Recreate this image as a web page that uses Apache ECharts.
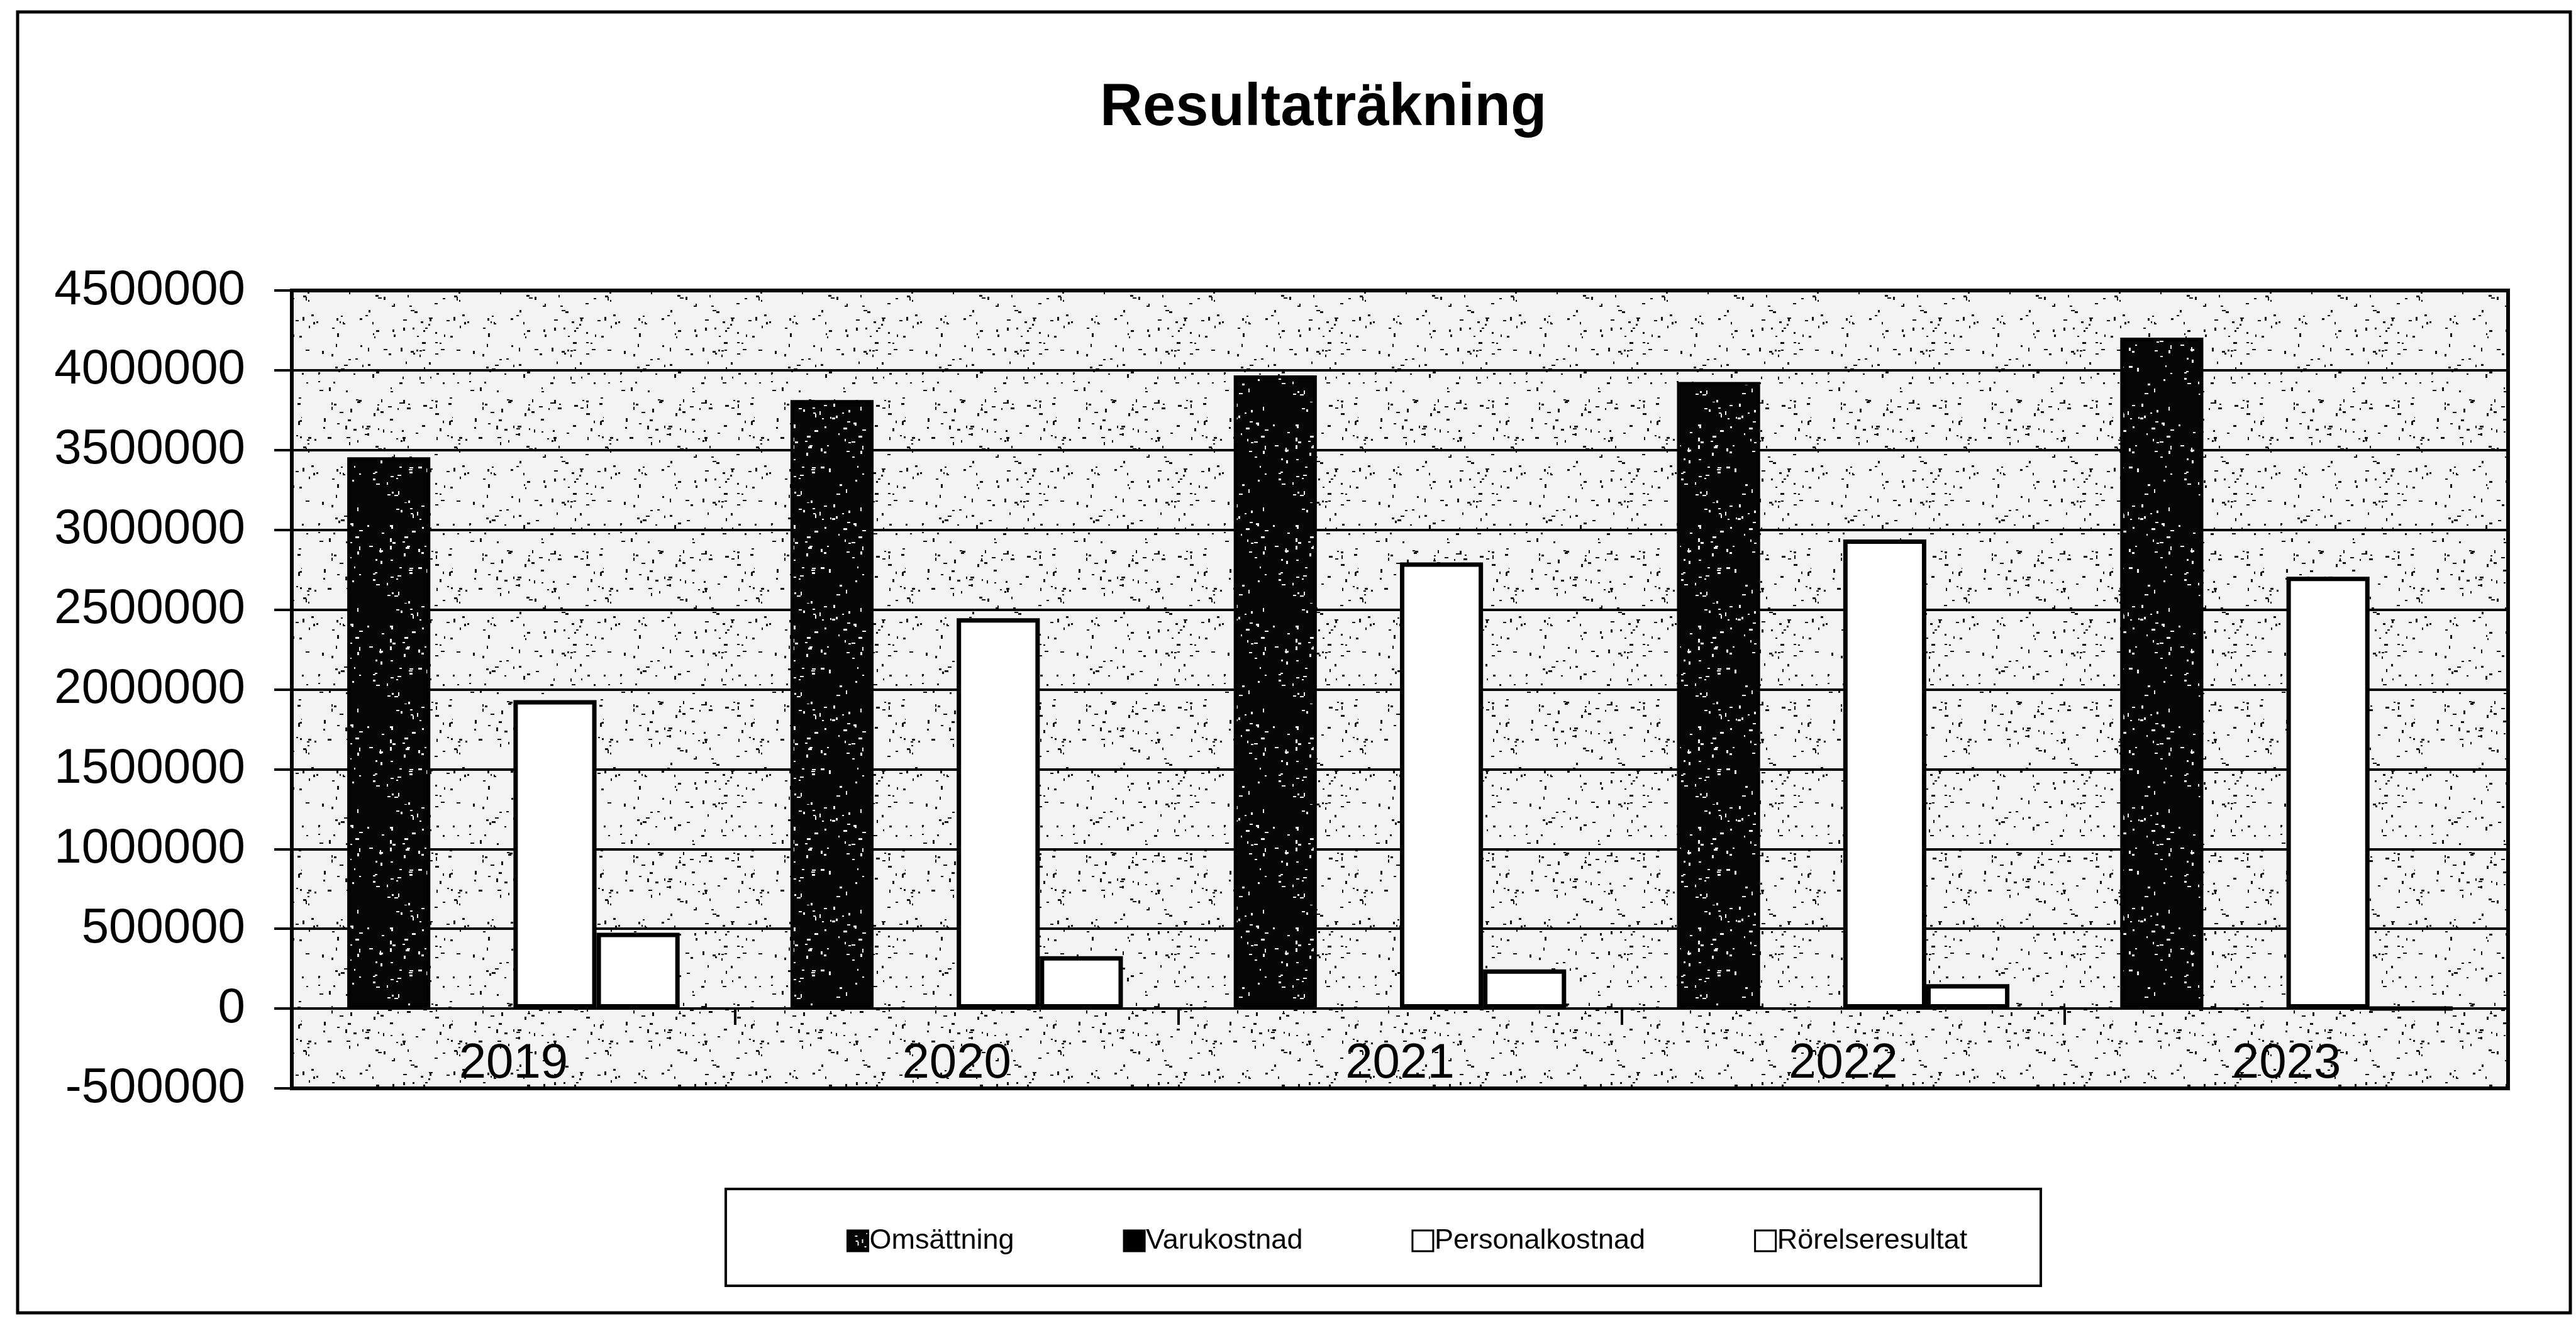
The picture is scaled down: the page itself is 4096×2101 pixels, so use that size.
<!DOCTYPE html>
<html>
<head>
<meta charset="utf-8">
<script src="https://cdn.jsdelivr.net/npm/echarts@6/dist/echarts.min.js"></script>
<style>
html,body{margin:0;padding:0;background:#fff;}
#chart{width:4096px;height:2101px;}
</style>
</head>
<body>
<div id="chart"></div>
<script>
// ---- data ----
const years = ['2019', '2020', '2021', '2022', '2023'];
const omsattning = [3455000, 3813000, 3968000, 3927000, 4204000];
const varukostnad = [null, null, null, null, null];
const personalkostnad = [1933000, 2446000, 2796000, 2940000, 2706000];
const rorelseresultat = [475000, 328000, 246000, 153000, 0];
const seriesNames = ['Omsättning', 'Varukostnad', 'Personalkostnad', 'Rörelseresultat'];
const yMin = -500000, yMax = 4500000, yStep = 500000;

// ---- speckle textures (deterministic) ----
function makeTile(size, bg, fg, count, seed) {
  const c = document.createElement('canvas');
  c.width = size; c.height = size;
  const g = c.getContext('2d');
  g.fillStyle = bg; g.fillRect(0, 0, size, size);
  let s = seed;
  const rnd = () => { s = (s * 1103515245 + 12345) % 2147483648; return s / 2147483648; };
  g.fillStyle = fg;
  for (let i = 0; i < count; i++) {
    const x = Math.floor(rnd() * size), y = Math.floor(rnd() * size);
    const horiz = rnd() < 0.6;
    const len = 3 + Math.floor(rnd() * 4);
    const th = 2 + Math.floor(rnd() * 2);
    if (horiz) g.fillRect(x, y, len, th); else g.fillRect(x, y, th, len);
  }
  return c;
}
const bgTile = makeTile(240, '#f3f3f3', '#111111', 170, 12345);
const barTile = makeTile(160, '#050505', '#f2f2f2', 80, 777);

const font = "'Liberation Sans', Arial, sans-serif";
const chart = echarts.init(document.getElementById('chart'), null, {renderer: 'canvas'});

const option = {
  backgroundColor: '#ffffff',
  animation: false,
  title: {
    text: 'Resultaträkning',
    left: 1744, top: 121,
    textStyle: {fontFamily: font, fontWeight: 'bold', fontSize: 94, color: '#000'}
  },
  legend: {
    data: seriesNames,
    left: 1341, top: 1946,
    itemWidth: 33, itemHeight: 33, itemGap: 173,
    icon: 'rect',
    textStyle: {fontFamily: font, fontSize: 45, color: '#000', padding: [0, 0, 0, -3]},
    itemStyle: {borderColor: '#000', borderWidth: 3}
  },
  grid: {
    left: 464, right: 108, top: 462, bottom: 370,
    show: true,
    backgroundColor: {image: bgTile, repeat: 'repeat'},
    borderColor: '#000', borderWidth: 6
  },
  xAxis: {
    type: 'category',
    data: years,
    axisLine: {onZero: true, lineStyle: {color: '#000', width: 4}},
    axisTick: {show: true, length: 26, lineStyle: {color: '#000', width: 4}},
    axisLabel: {fontFamily: font, fontSize: 78, color: '#000', margin: -78},
    splitLine: {show: false}
  },
  yAxis: {
    type: 'value',
    min: yMin, max: yMax, interval: yStep,
    axisLine: {show: true, onZero: false, lineStyle: {color: '#000', width: 6}},
    axisTick: {show: true, length: 28, lineStyle: {color: '#000', width: 4}},
    axisLabel: {fontFamily: font, fontSize: 78, color: '#000', margin: 74,
      formatter: v => String(v)},
    splitLine: {show: true, lineStyle: {color: '#000', width: 4}}
  },
  series: [
    {name: seriesNames[0], type: 'bar', data: omsattning, barGap: '0%', barCategoryGap: '25%',
     itemStyle: {color: {image: barTile, repeat: 'repeat'}, borderColor: '#000', borderWidth: 5}},
    {name: seriesNames[1], type: 'bar', data: varukostnad,
     itemStyle: {color: '#000', borderColor: '#000', borderWidth: 5}},
    {name: seriesNames[2], type: 'bar', data: personalkostnad,
     itemStyle: {color: '#fff', borderColor: '#000', borderWidth: 7}},
    {name: seriesNames[3], type: 'bar', data: rorelseresultat,
     itemStyle: {color: '#fff', borderColor: '#000', borderWidth: 7}}
  ],
  graphic: [
    {type: 'rect', z: -1, shape: {x: 28, y: 19, width: 4059, height: 2069},
     style: {fill: null, stroke: '#000', lineWidth: 5}},
    {type: 'rect', z: -1, shape: {x: 1154, y: 1891, width: 2091, height: 154},
     style: {fill: null, stroke: '#000', lineWidth: 4}}
  ]
};
chart.setOption(option);
</script>
</body>
</html>
